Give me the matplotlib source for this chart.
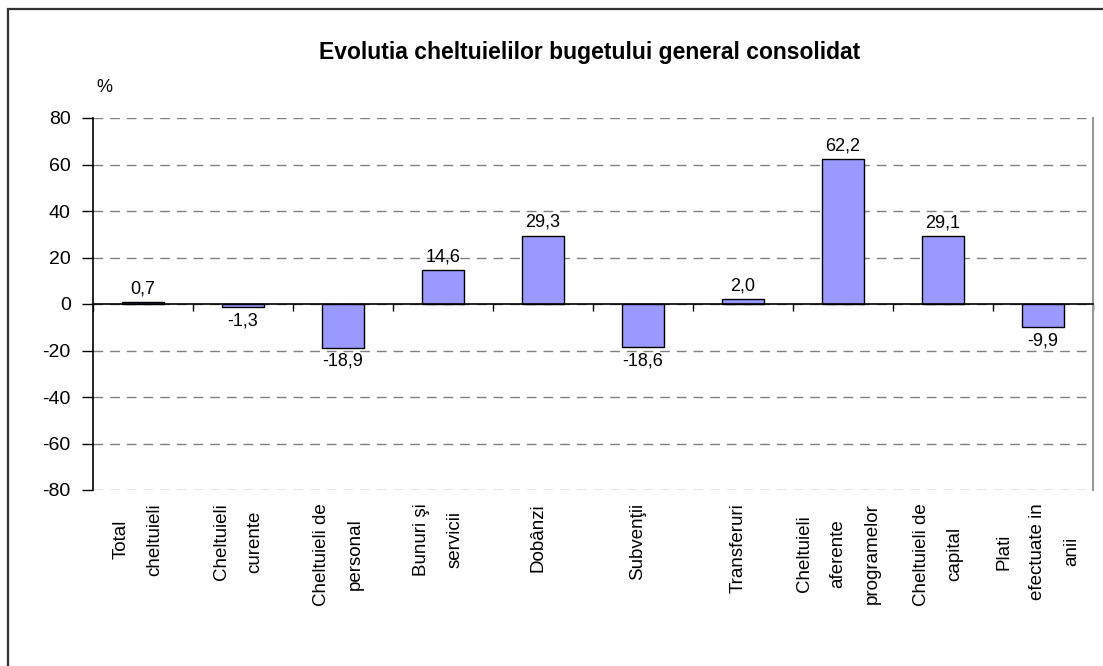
import numpy as np
import matplotlib
matplotlib.use("Agg")
import matplotlib.pyplot as plt
from matplotlib.patches import Rectangle

plt.rcParams['font.family'] = ['Liberation Sans', 'DejaVu Sans']

categories = ["Total\ncheltuieli", "Cheltuieli\ncurente", "Cheltuieli de\npersonal",
              "Bunuri şi\nservicii", "Dobânzi", "Subvenţii", "Transferuri",
              "Cheltuieli\naferente\nprogramelor", "Cheltuieli de\ncapital",
              "Plati\nefectuate in\nanii"]
values = [0.7, -1.3, -18.9, 14.6, 29.3, -18.6, 2.0, 62.2, 29.1, -9.9]
labels = ["0,7", "-1,3", "-18,9", "14,6", "29,3", "-18,6", "2,0", "62,2", "29,1", "-9,9"]
yticks = [-80, -60, -40, -20, 0, 20, 40, 60, 80]

fig = plt.figure(figsize=(11.03, 6.66), dpi=100)
ax = fig.add_axes([93/1103, 1 - 490/666, 1000/1103, 372/666])

# outer frame (cut at right and bottom like the source)
fig.patches.append(Rectangle((8/1103, -0.05), 1.1, 1 - 9/666 + 0.05,
                             transform=fig.transFigure, fill=False,
                             edgecolor='#333333', lw=1.6))

x = np.arange(len(values))
ax.bar(x, values, width=0.42, color='#9999FF', edgecolor='black', linewidth=1.0, zorder=3)

ax.set_xlim(-0.5, len(values) - 0.5)
ax.set_ylim(-80, 80)
ax.set_yticks(yticks)
ax.set_yticklabels([str(v) for v in yticks], fontsize=14)
ax.tick_params(axis='y', length=8, width=1, pad=8, direction='out')

for v in yticks:
    ax.axhline(v, color='#808080', lw=1.0, ls=(0, (7, 5)), zorder=1)

ax.spines['top'].set_visible(False)
ax.spines['right'].set_color('#999999')
ax.spines['right'].set_linewidth(1.5)
ax.spines['left'].set_linewidth(1.2)
ax.spines['bottom'].set_position(('data', 0))
ax.spines['bottom'].set_linewidth(1.2)
ax.spines['bottom'].set_zorder(4)

ax.set_xticks(np.arange(len(values) + 1) - 0.5)
ax.set_xticklabels([])
ax.tick_params(axis='x', length=5, width=1, direction='out')

for i, v in enumerate(values):
    off = 5 if v >= 0 else -5
    ax.annotate(labels[i], (i, v), xytext=(0, off), textcoords='offset pixels',
                ha='center', va='bottom' if v >= 0 else 'top', fontsize=13)

for i, c in enumerate(categories):
    ax.annotate(c, (i, 0), xycoords=('data', 'axes fraction'),
                xytext=(-5, -13), textcoords='offset pixels',
                rotation=90, ha='center', va='top', multialignment='center',
                linespacing=2.3, fontsize=13.5)

fig.text(590/1103, 1 - 52/666, "Evolutia cheltuielilor bugetului general consolidat",
         ha='center', va='center', fontsize=16.5, fontweight='bold')
fig.text(104/1103, 1 - 88/666, "%", ha='center', va='center', fontsize=13)

fig.savefig("out.png", dpi=100)
